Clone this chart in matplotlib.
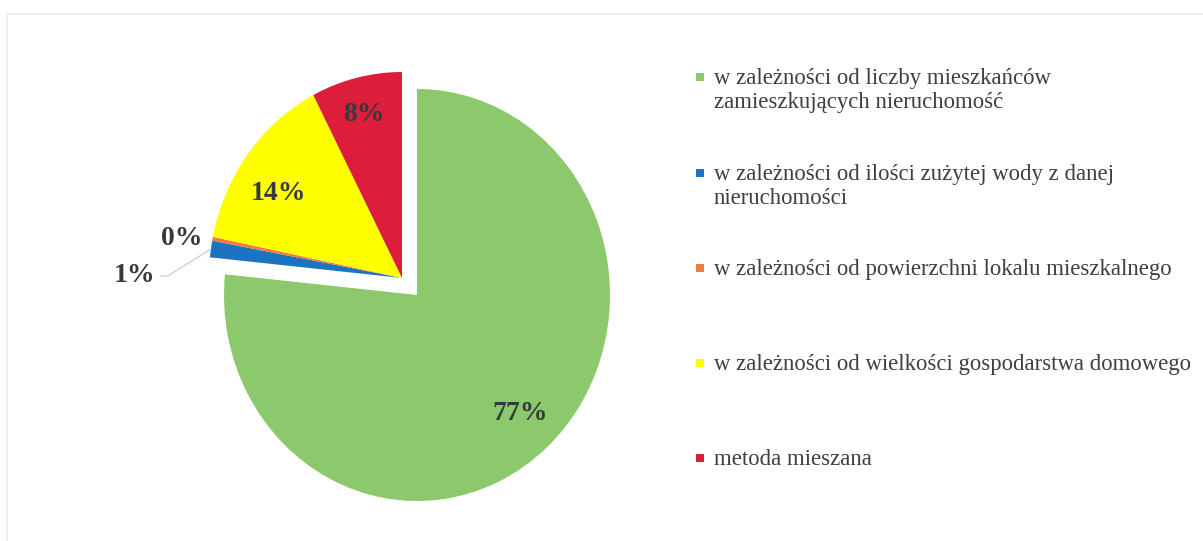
import numpy as np
import matplotlib.pyplot as plt
from matplotlib.patches import Rectangle

# Dane (udziały w %)
kategorie = [
    'w zależności od liczby mieszkańców\nzamieszkujących nieruchomość',
    'w zależności od ilości zużytej wody z danej\nnieruchomości',
    'w zależności od powierzchni lokalu mieszkalnego',
    'w zależności od wielkości gospodarstwa domowego',
    'metoda mieszana',
]
udzialy = [76.6, 1.3, 0.3, 14.2, 7.6]
etykiety = ['77%', '1%', '0%', '14%', '8%']
kolory = ['#8cc86c', '#1a74c2', '#ef7c3c', '#ffff00', '#dc1e3c']

W, H = 1203, 541
fig = plt.figure(figsize=(W / 100, H / 100), dpi=100)
fig.patch.set_facecolor('white')

# delikatna ramka obszaru wykresu
fig.patches.append(Rectangle((7 / W, -0.1), 1.2, (H - 14) / H + 0.1,
                             transform=fig.transFigure, fill=False,
                             edgecolor='#ebebeb', linewidth=1.2))

# oś dla koła: 193 px / jednostkę w poziomie, 206 px w pionie
cx, cy = 417, 295
sx, sy = 193, 206
ax = fig.add_axes([0, 0, 680 / W, 1])
wedges, _ = ax.pie(udzialy, colors=kolory, startangle=90, counterclock=False,
                   wedgeprops=dict(linewidth=0))
ax.set_aspect('auto')
ax.set_xlim(-cx / sx, (680 - cx) / sx)
ax.set_ylim(-(H - cy) / sy, cy / sy)
ax.axis('off')

# wysunięte wycinki (wszystkie poza pierwszym) przesunięte razem
off = np.array([-15 / sx, 17 / sy])
for w in wedges[1:]:
    w.set_center(tuple(off))

font = dict(family=['Liberation Serif', 'DejaVu Serif'], fontweight='bold',
            color='#353a3a', fontsize=20)

def srodek(w, d):
    t = np.deg2rad((w.theta1 + w.theta2) / 2)
    c = np.array(w.center)
    return c + d * np.array([np.cos(t), np.sin(t)])

p = srodek(wedges[0], 0.75) + np.array([0.03, -0.02])
ax.text(*p, etykiety[0], ha='center', va='center', **font)
p = srodek(wedges[3], 0.75) + np.array([-0.04, -0.04])
ax.text(*p, etykiety[3], ha='center', va='center', **font)
p = srodek(wedges[4], 0.83) + np.array([0.0, -0.015])
ax.text(*p, etykiety[4], ha='center', va='center', **font)

# etykiety zewnętrzne
ax.text(off[0] - 1.14, off[1] + 0.19, etykiety[2], ha='center', va='center', **font)
ax.annotate(etykiety[1], xy=srodek(wedges[1], 1.0),
            xytext=(off[0] - 1.28, off[1] + 0.01), ha='right', va='center',
            **font,
            arrowprops=dict(arrowstyle='-', color='#c5d3ea', lw=1,
                            shrinkA=2, shrinkB=0,
                            connectionstyle='angle,angleA=0,angleB=32,rad=0'))

# legenda
leg_y = [77, 173, 268, 363, 458]
for lab, kol, y in zip(kategorie, kolory, leg_y):
    fig.patches.append(Rectangle(((700 - 4) / W, 1 - (y + 4) / H), 8 / W, 8 / H,
                                 transform=fig.transFigure, facecolor=kol,
                                 edgecolor='none'))
    fig.text(714 / W, 1 - (y - 9) / H, lab, ha='left', va='top', fontsize=16.4,
             family=['Liberation Serif', 'DejaVu Serif'], color='#3c4040',
             linespacing=1.2)

fig.savefig('out.png', dpi=100, facecolor='white')
